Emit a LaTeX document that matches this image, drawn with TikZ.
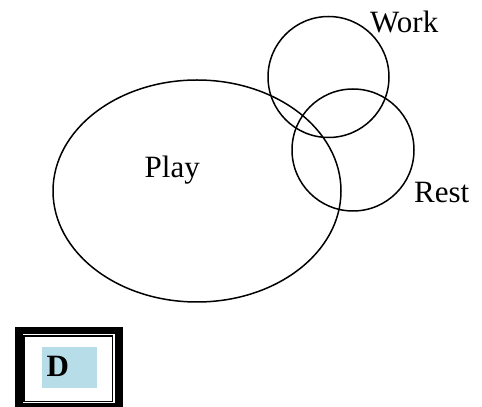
\documentclass[tikz,border=0pt]{standalone}
\usepackage{fontspec}
\setmainfont{Liberation Serif}
\usetikzlibrary{shapes.geometric}
\definecolor{markblue}{RGB}{183,222,232}

\begin{document}
\begin{tikzpicture}[
    x=1pt, y=1pt,
    venn/.style={circle, draw=black, line width=1.5pt, inner sep=0pt},
    label/.style={anchor=base west, inner sep=0pt, font=\fontsize{31}{36}\selectfont}
]
    \useasboundingbox (0,0) rectangle (482,407);

    % the three sets
    \node[ellipse, draw=black, line width=1.5pt, inner sep=0pt,
          minimum width=288, minimum height=222] (play) at (197,216) {};
    \node[venn, minimum size=121] (work) at (328.5,330) {};
    \node[venn, minimum size=122] (rest) at (353,257) {};

    \node[label] (playtext) at (144.5,229) {Play};
    \node[label] (worktext) at (370,374) {Work};
    \node[label] (resttext) at (414,204) {Rest};

    % framed mark
    \fill[black] (15,0) rectangle (123,80);
    \fill[white] (22.5,3.7) rectangle (115,73);
    \draw[line width=1.6pt] (24.2,5.5) rectangle (112.5,71);
    \fill[markblue] (41.7,18.7) rectangle (96.7,59.7);
    \node[label, font=\fontsize{31}{36}\selectfont\bfseries] (mark) at (46.5,30) {D};
\end{tikzpicture}
\end{document}
